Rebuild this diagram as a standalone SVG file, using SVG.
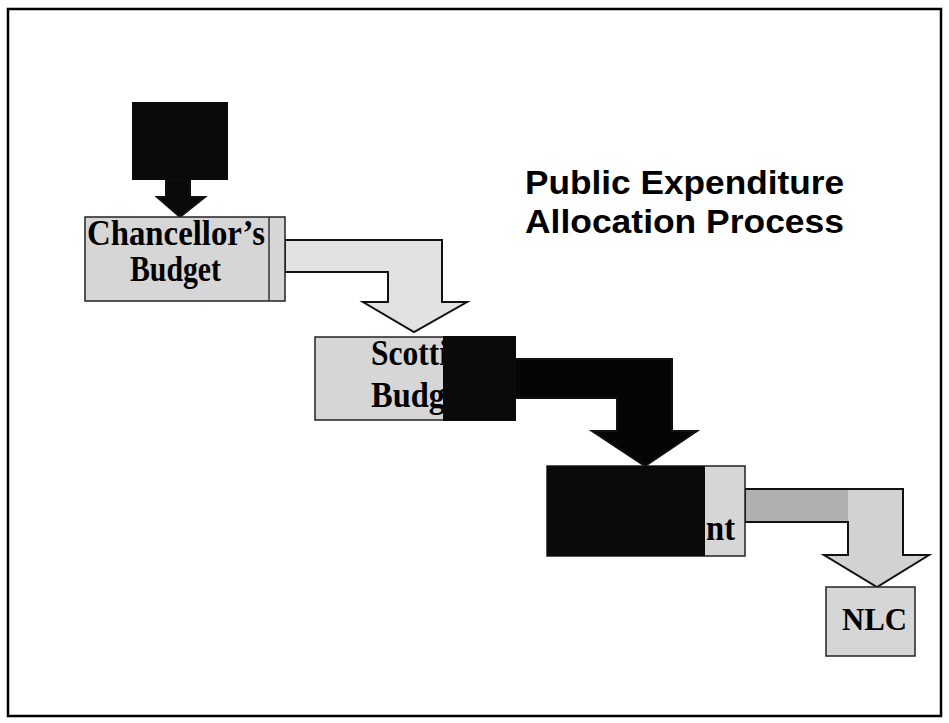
<svg xmlns="http://www.w3.org/2000/svg" width="949" height="723" viewBox="0 0 949 723">
<style>
.box{fill:#d6d6d6;stroke:#222;stroke-width:1.5}
.blk{fill:#0a0a0a}
.arr{stroke:#111;stroke-width:2}
.lbl{font-family:"Liberation Serif","Times New Roman",serif;font-weight:bold;fill:#000}
.title{font-family:"Liberation Sans",Arial,sans-serif;font-weight:bold;font-size:34px;fill:#000}
</style>
<rect x="0" y="0" width="949" height="723" fill="#fff"/>
<rect x="8" y="9" width="933" height="707" fill="none" stroke="#000" stroke-width="2.5"/>

<g id="title">
<text class="title" x="525" y="194" textLength="319" lengthAdjust="spacingAndGlyphs">Public Expenditure</text>
<text class="title" x="525" y="233" textLength="319" lengthAdjust="spacingAndGlyphs">Allocation Process</text>
</g>

<g id="connectors">
<polygon class="arr" fill="#0a0a0a" points="166,180 190,180 190,197 205,197 180,217 157,197 166,197"/>
<polygon class="arr" fill="#e2e2e2" points="285,240 442,240 442,302 467,302 414,332 363,302 388,302 388,272 285,272"/>
<polygon class="arr" fill="#050505" points="515,359 672,359 672,431 697,431 645,466 592,431 617,431 617,398 515,398"/>
<polygon class="arr" fill="#d2d2d2" points="745,489 903,489 903,555 929,555 877,587 824,555 848,555 848,522 745,522"/>
<rect x="746" y="490" width="102" height="31" fill="#b0b0b0"/>
</g>

<g id="source">
<rect class="blk" x="132" y="102" width="96" height="78" fill="#151515"/>
</g>

<g id="chancellors-budget">
<rect class="box" x="85" y="217" width="200" height="84"/>
<line x1="269" y1="217" x2="269" y2="301" stroke="#333" stroke-width="1.5"/>
<text class="lbl" x="87" y="245" font-size="35" textLength="178" lengthAdjust="spacingAndGlyphs">Chancellor’s</text>
<text class="lbl" x="130" y="281" font-size="35" textLength="91" lengthAdjust="spacingAndGlyphs">Budget</text>
</g>

<g id="scottish-budget">
<rect class="box" x="315" y="337" width="200" height="83"/>
<text class="lbl" x="371" y="365" font-size="35" textLength="77" lengthAdjust="spacingAndGlyphs">Scotti</text>
<text class="lbl" x="371" y="407" font-size="35" textLength="74" lengthAdjust="spacingAndGlyphs">Budg</text>
<rect class="blk" x="443" y="336" width="73" height="85"/>
</g>

<g id="department">
<rect class="box" x="547" y="466" width="198" height="90"/>
<rect class="blk" x="547" y="466" width="158" height="90"/>
<text class="lbl" x="706" y="540" font-size="35" textLength="29" lengthAdjust="spacingAndGlyphs">nt</text>
</g>

<g id="nlc">
<rect class="box" x="826" y="587" width="89" height="69"/>
<text class="lbl" x="842" y="630" font-size="31" textLength="65" lengthAdjust="spacingAndGlyphs">NLC</text>
</g>
</svg>
